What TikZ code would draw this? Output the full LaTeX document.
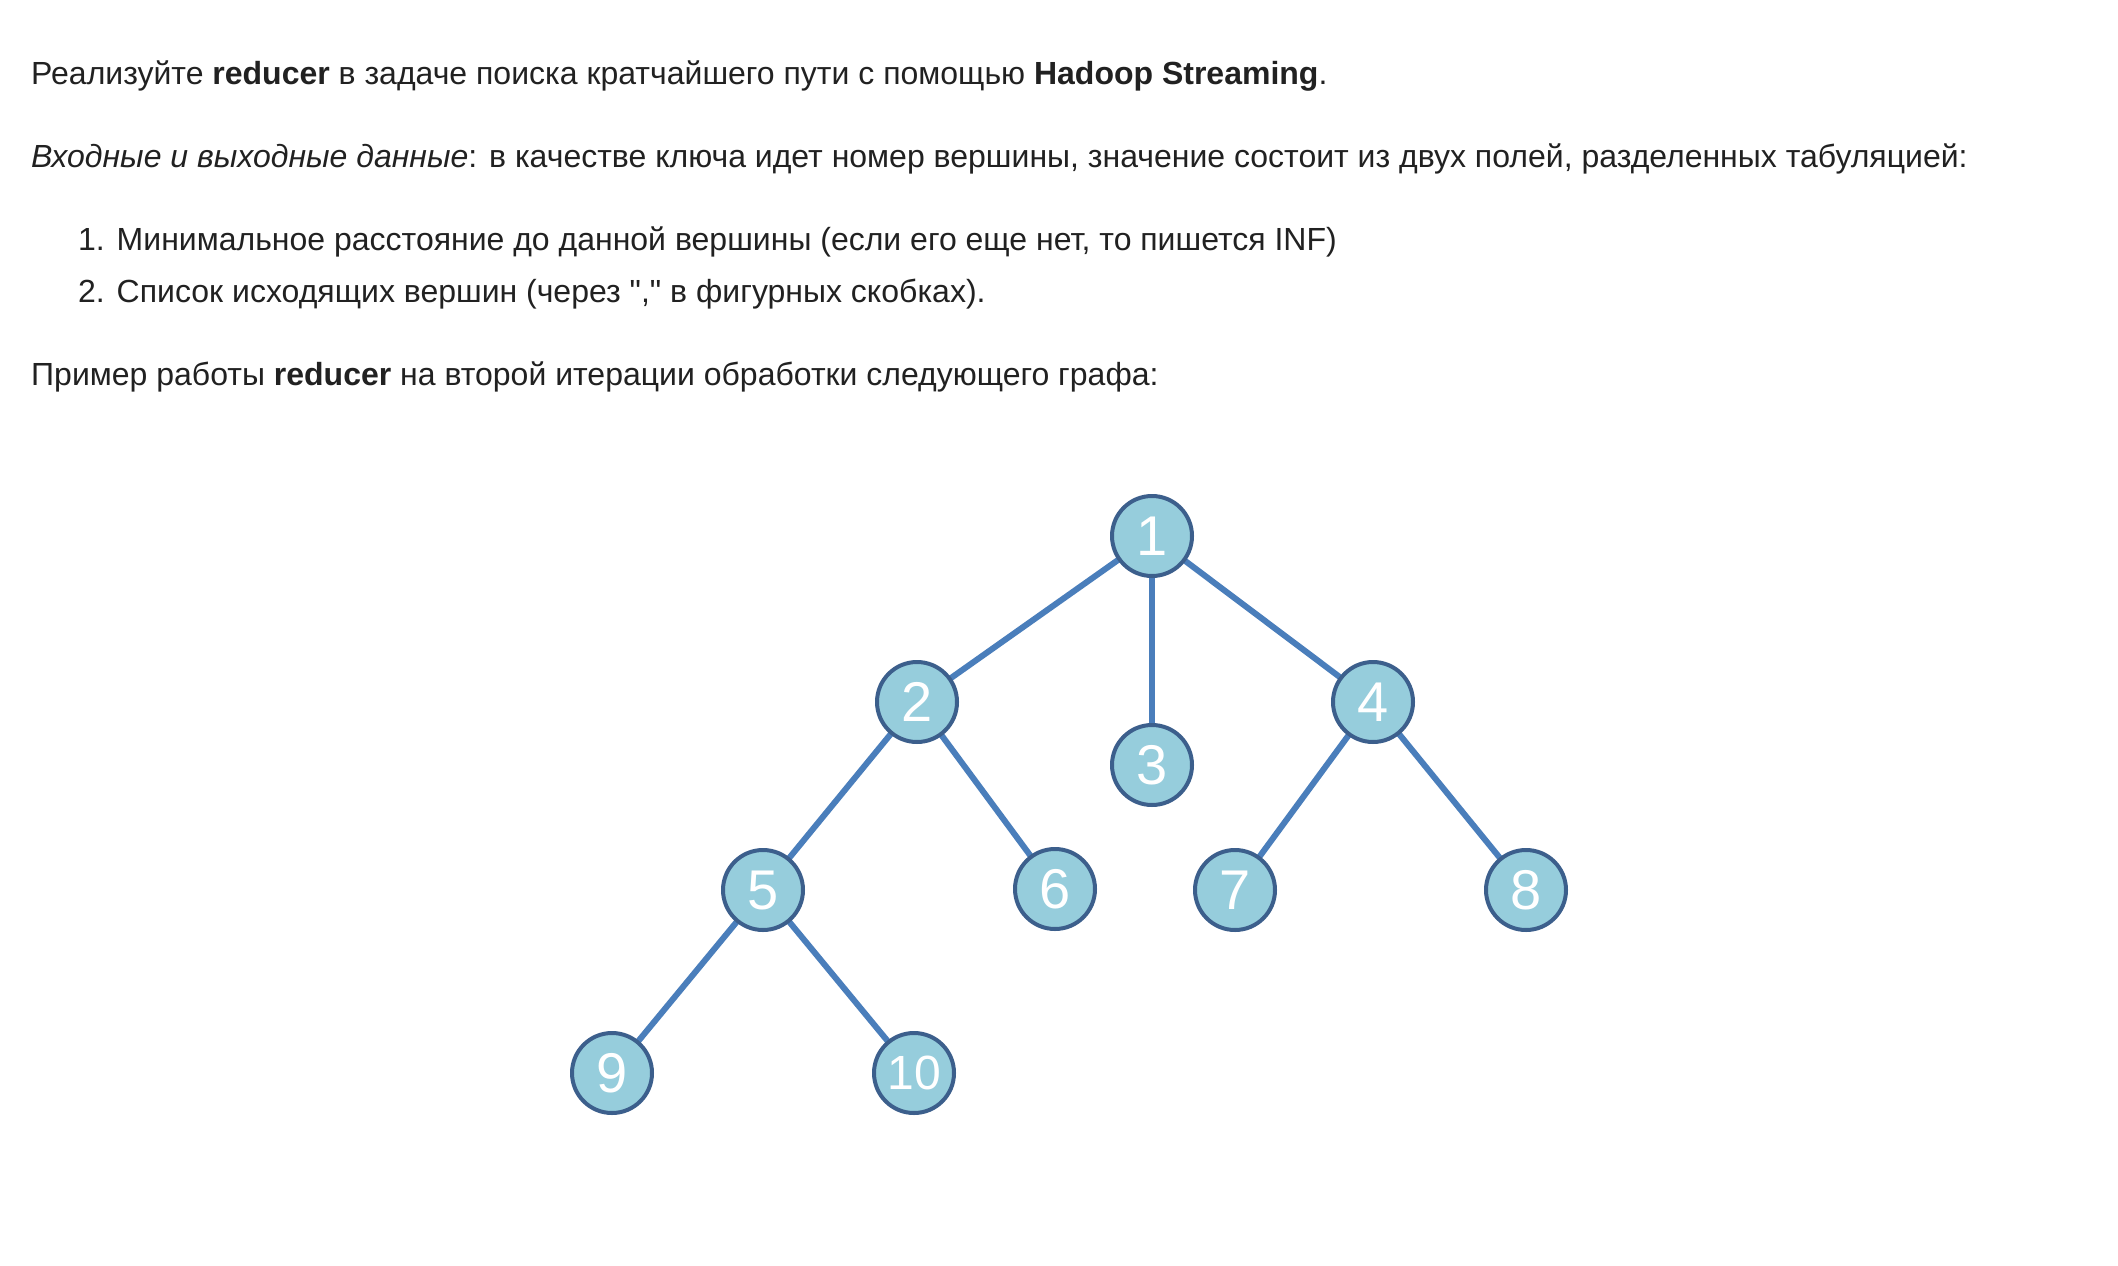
\documentclass[tikz,border=0pt]{standalone}
\usepackage{fontspec}
\setmainfont{Liberation Sans}
\usetikzlibrary{backgrounds}
\definecolor{txt}{HTML}{212121}
\definecolor{nodefill}{HTML}{96CDDC}
\definecolor{nodeline}{HTML}{3C5F8C}
\definecolor{edgecol}{HTML}{4A7EBB}
\newcommand{\straightquote}{\XeTeXglyph\XeTeXglyphindex "quotedbl" \relax}
\tikzset{
  para/.style={anchor=base west, inner sep=0pt, text=txt, font=\fontsize{32}{38}\selectfont},
  vtx/.style={circle, fill=nodefill, draw=nodeline, line width=4pt, minimum size=80pt, inner sep=0pt, text=white, font=\fontsize{56}{56}\selectfont},
  vtxsmall/.style={vtx, font=\fontsize{48}{48}\selectfont},
  edge/.style={draw=edgecol, line width=6pt}
}
\begin{document}
\begin{tikzpicture}[x=1pt,y=-1pt]
\useasboundingbox (0,0) rectangle (2118,1266);
\node[para] (t1) at (31,84) {Реализуйте \textbf{reducer} в задаче поиска кратчайшего пути с помощью \textbf{Hadoop Streaming}.};
\node[para] (t2) at (31,167) {\textit{Входные и выходные данные}: в качестве ключа идет номер вершины, значение состоит из двух полей, разделенных табуляцией:};
\node[para] (t3) at (78,250) {1. Минимальное расстояние до данной вершины (если его еще нет, то пишется INF)};
\node[para] (t4) at (78,302) {2. Список исходящих вершин (через \straightquote,\straightquote\ в фигурных скобках).};
\node[para] (t5) at (31,385) {Пример работы \textbf{reducer} на второй итерации обработки следующего графа:};

\node[vtx] (n1) at (1152,536) {1};
\node[vtx] (n2) at (917,702) {2};
\node[vtx] (n3) at (1152,765) {3};
\node[vtx] (n4) at (1373,702) {4};
\node[vtx] (n5) at (763,890) {5};
\node[vtx] (n6) at (1055,889) {6};
\node[vtx] (n7) at (1235,890) {7};
\node[vtx] (n8) at (1526,890) {8};
\node[vtx] (n9) at (612,1073) {9};
\node[vtxsmall] (n10) at (914,1073) {10};

\begin{scope}[on background layer]
\fill[white] (0,0) rectangle (2118,1266);
\draw[edge] (n1.center) -- (n2.center);
\draw[edge] (n1.center) -- (n3.center);
\draw[edge] (n1.center) -- (n4.center);
\draw[edge] (n2.center) -- (n5.center);
\draw[edge] (n2.center) -- (n6.center);
\draw[edge] (n4.center) -- (n7.center);
\draw[edge] (n4.center) -- (n8.center);
\draw[edge] (n5.center) -- (n9.center);
\draw[edge] (n5.center) -- (n10.center);
\end{scope}
\end{tikzpicture}
\end{document}
